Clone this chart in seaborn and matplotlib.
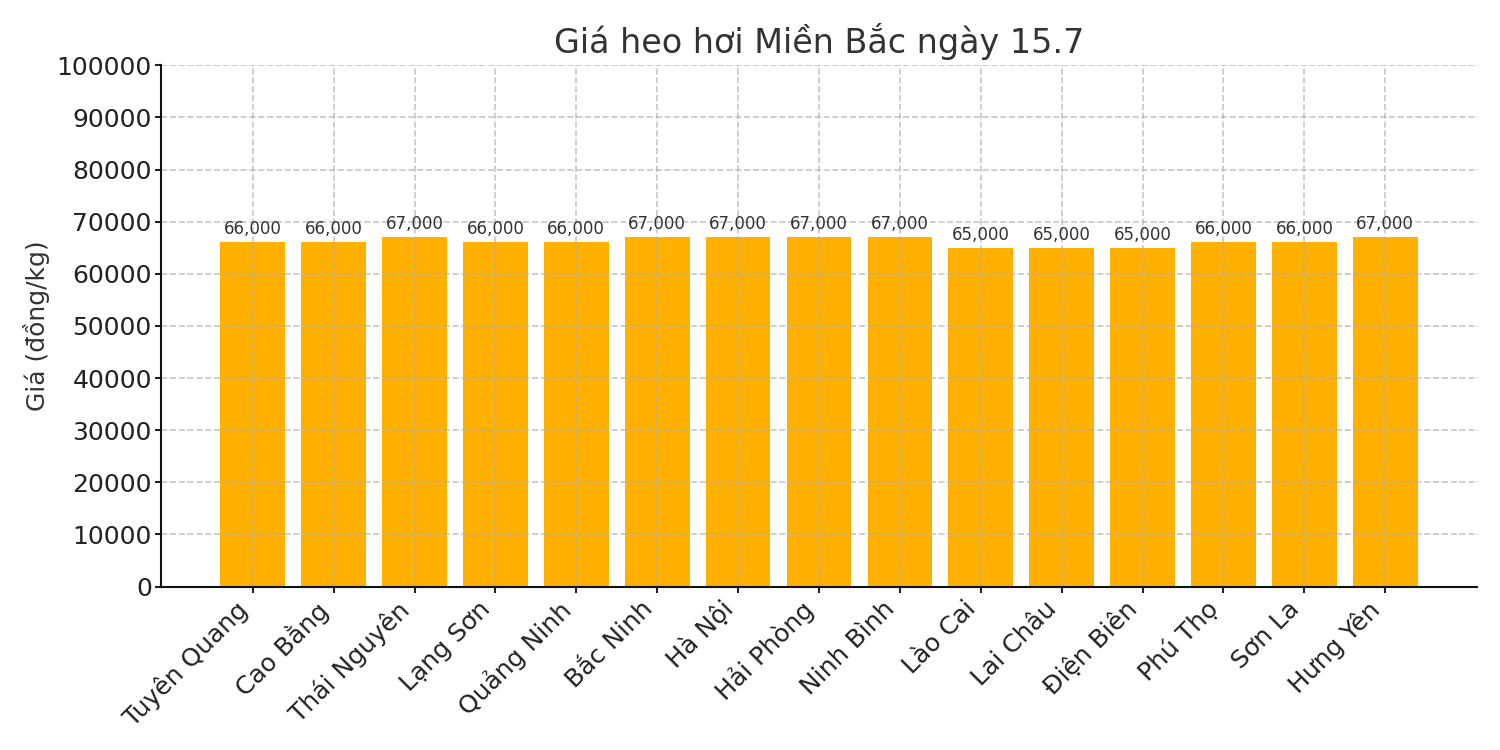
import matplotlib
matplotlib.use("Agg")
import matplotlib.pyplot as plt
import seaborn as sns
import pandas as pd

provinces = ["Tuyên Quang", "Cao Bằng", "Thái Nguyên", "Lạng Sơn", "Quảng Ninh",
             "Bắc Ninh", "Hà Nội", "Hải Phòng", "Ninh Bình", "Lào Cai",
             "Lai Châu", "Điện Biên", "Phú Thọ", "Sơn La", "Hưng Yên"]
prices = [66000, 66000, 67000, 66000, 66000, 67000, 67000, 67000, 67000,
          65000, 65000, 65000, 66000, 66000, 67000]
yticks = list(range(0, 100001, 10000))

plt.rcParams['font.family'] = ['DejaVu Sans']
df = pd.DataFrame({"province": provinces, "price": prices})

fig, ax = plt.subplots(figsize=(10, 5), dpi=150)
sns.barplot(data=df, x="province", y="price", color="#FFB000", saturation=1,
            width=0.8, ax=ax)
ax.bar_label(ax.containers[0], labels=[f"{v:,}" for v in prices],
             padding=2, fontsize=8, color="#333333")
ax.set_ylim(0, 100000)
ax.set_yticks(yticks)
ax.set_yticklabels([str(t) for t in yticks], fontsize=12, color="#222222")
ax.set_xlim(-1.14, len(provinces) - 1 + 1.14)
plt.setp(ax.get_xticklabels(), rotation=45, ha="right", rotation_mode="default",
         fontsize=12, color="#222222")
ax.set_xlabel("")
ax.set_ylabel("Giá (đồng/kg)", fontsize=12, color="#333333", labelpad=3)
ax.set_title("Giá heo hơi Miền Bắc ngày 15.7", fontsize=16, color="#333333")
ax.grid(True, linestyle="--", color="#b0b0b0", alpha=0.7, linewidth=0.8)
ax.set_axisbelow(False)
for p in ax.patches:
    p.set_zorder(1)
ax.spines["top"].set_visible(False)
ax.spines["right"].set_visible(False)
for s in ("left", "bottom"):
    ax.spines[s].set_color("#111111")
    ax.spines[s].set_linewidth(1.0)
    ax.spines[s].set_zorder(3)
ax.tick_params(colors="#222222", length=3, width=1.0)
ax.tick_params(axis="y", pad=1.2)
ax.tick_params(axis="x", pad=2)
fig.subplots_adjust(left=0.107, right=0.985, top=0.913, bottom=0.218)
fig.savefig("out.png", dpi=150)
